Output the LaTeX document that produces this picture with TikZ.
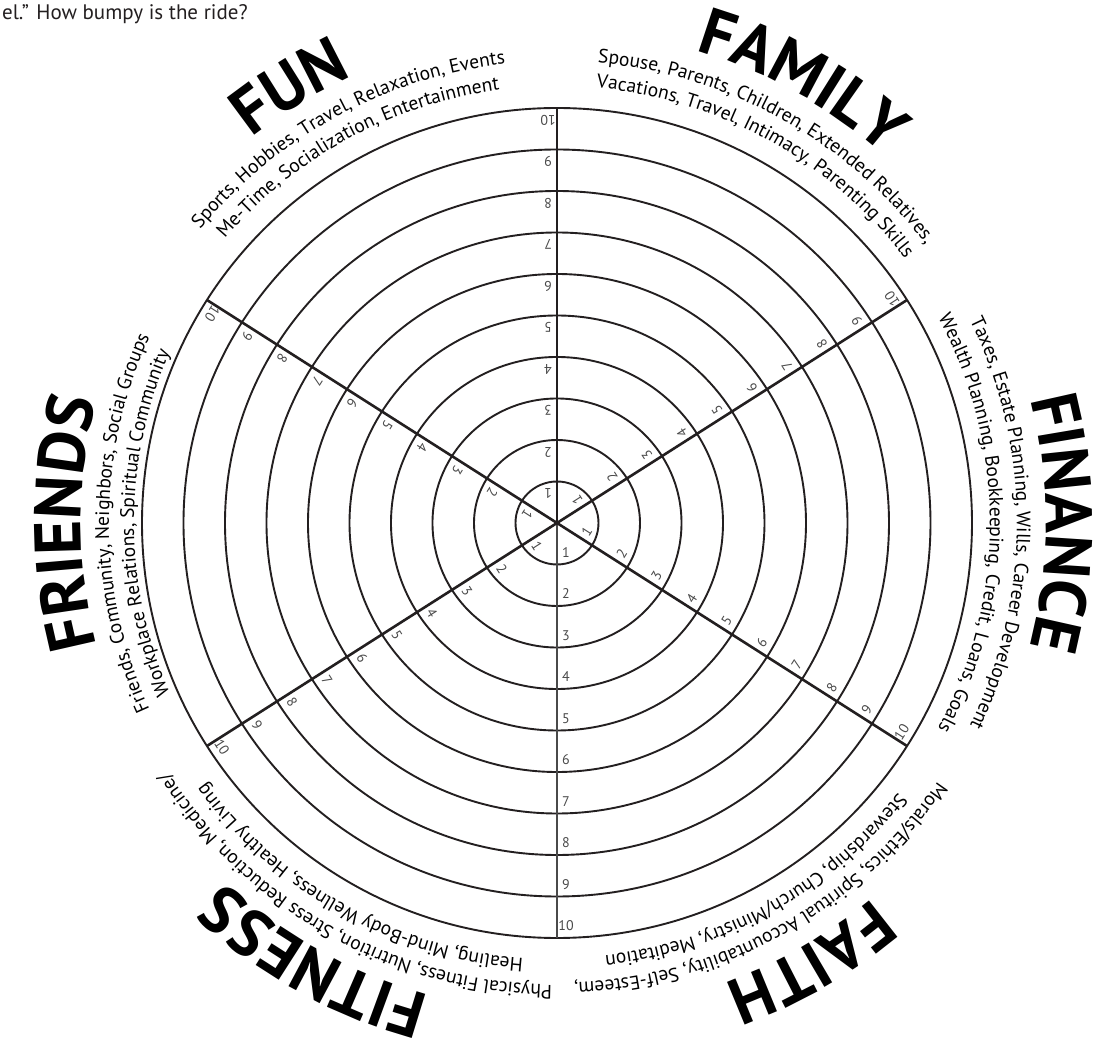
\documentclass[tikz,border=0pt]{standalone}
\usepackage{fontspec}
\setmainfont{PT Sans}
\usetikzlibrary{decorations.text}
\definecolor{ink}{HTML}{231F20}
\definecolor{numgray}{HTML}{4A4A4A}
\newcommand\wheelsub{\fontsize{19.5}{20}\selectfont}
\newcommand\wheelhead{\fontsize{66}{66}\selectfont\bfseries}
\tikzset{
  ring/.style={draw=ink, line width=1.9pt},
  spoke/.style={draw=ink, line width=2.6pt},
  lowspoke/.style={draw=numgray, line width=1.7pt},
  num/.style={font=\fontsize{14}{14}\selectfont, text=numgray, inner sep=0pt},
  curv/.style={decorate, decoration={text along path, text align=center, text={#1}}},
}
\begin{document}
\begin{tikzpicture}[x=1pt,y=1pt]
\useasboundingbox (-557,-520) rectangle (543,523);
\fill[white] (-557,-520) rectangle (543,523);
\node[anchor=base west, inner sep=0pt, text=ink, font=\fontsize{21}{21}\selectfont] (intro) at (-555,503) {el.” How bumpy is the ride?};
% rings
\foreach \k in {1,...,10} \draw[ring] (0,0) circle[radius=41.5*\k];
% spokes
\coordinate (c) at (0,0);
\coordinate (pN) at (90:415);
\coordinate (pS) at (-90:415);
\coordinate (pNE) at (32.5:415);
\coordinate (pSE) at (-32.5:415);
\coordinate (pSW) at (212.5:415);
\coordinate (pNW) at (147.5:415);
\draw[lowspoke] (c) -- (pS);
\draw[spoke] (c) -- (pN);
\draw[spoke] (pNE) -- (pSW);
\draw[spoke] (pNW) -- (pSE);
% ring numbers
\foreach \a/\i in {90/N,32.5/NE,-32.5/SE,-90/S,212.5/SW,147.5/NW}
  \foreach \k in {1,...,10}
    \path (\a:{41.5*\k-12}) ++(\a+90:9) node[num, rotate=\a+90] (n\i\k) {\k};
% headers
\path[curv={|\wheelhead|FUN}] (152:491) arc[start angle=152, end angle=91, radius=491];
\path[curv={|\wheelhead|FAMILY}] (100:492) arc[start angle=100, end angle=22, radius=492];
\path[curv={|\wheelhead|FINANCE}] (40:489) arc[start angle=40, end angle=-40, radius=489];
\path[curv={|\wheelhead|FAITH}] (-20:490) arc[start angle=-20, end angle=-100, radius=490];
\path[curv={|\wheelhead|FITNESS}] (-75:489) arc[start angle=-75, end angle=-163, radius=489];
\path[curv={|\wheelhead|FRIENDS}] (225:476) arc[start angle=225, end angle=135, radius=476];
% descriptions
\path[curv={|\wheelsub|Sports, Hobbies, Travel, Relaxation, Events}] (175:462) arc[start angle=175, end angle=62, radius=462];
\path[curv={|\wheelsub|Me-Time, Socialization, Entertainment}] (175:437) arc[start angle=175, end angle=62, radius=437];
\path[curv={|\wheelsub|Spouse, Parents, Children, Extended Relatives,}] (118:462) arc[start angle=118, end angle=4, radius=462];
\path[curv={|\wheelsub|Vacations, Travel, Intimacy, Parenting Skills}] (118:437) arc[start angle=118, end angle=4, radius=437];
\path[curv={|\wheelsub|Taxes, Estate Planning, Wills, Career Development}] (57:460) arc[start angle=57, end angle=-57, radius=460];
\path[curv={|\wheelsub|Wealth Planning, Bookkeeping, Credit, Loans, Goals}] (57:433) arc[start angle=57, end angle=-57, radius=433];
\path[curv={|\wheelsub|Morals/Ethics, Spiritual Accountability, Self-Esteem,}] (-4:460) arc[start angle=-4, end angle=-118, radius=460];
\path[curv={|\wheelsub|Stewardship, Church/Ministry, Meditation}] (-4:435) arc[start angle=-4, end angle=-118, radius=435];
\path[curv={|\wheelsub|Physical Fitness, Nutrition, Stress Reduction, Medicine/}] (-62:462) arc[start angle=-62, end angle=-176, radius=462];
\path[curv={|\wheelsub|Healing, Mind-Body Wellness, Healthy Living}] (-62:437) arc[start angle=-62, end angle=-176, radius=437];
\path[curv={|\wheelsub|Friends, Community, Neighbors, Social Groups}] (237:448) arc[start angle=237, end angle=123, radius=448];
\path[curv={|\wheelsub|Workplace Relations, Spiritual Community}] (237:423) arc[start angle=237, end angle=123, radius=423];
\end{tikzpicture}
\end{document}
